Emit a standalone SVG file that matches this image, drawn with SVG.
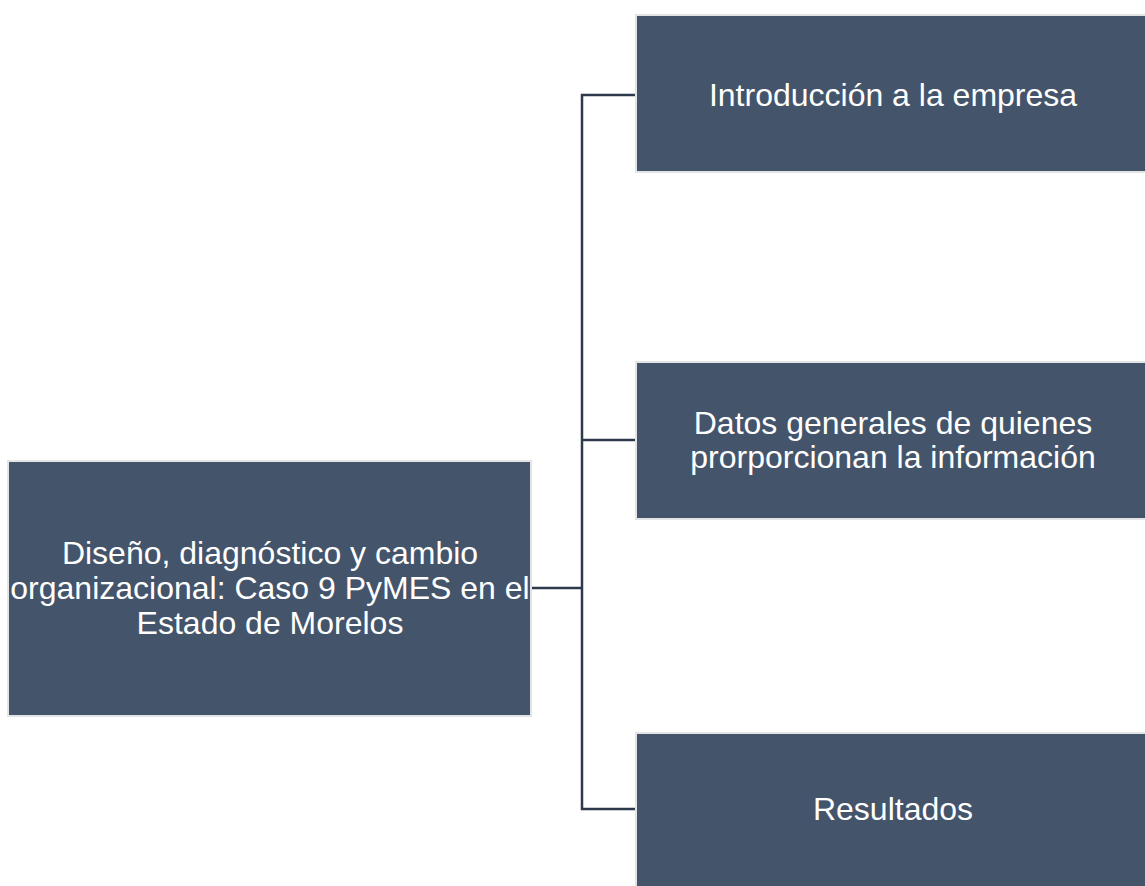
<svg xmlns="http://www.w3.org/2000/svg" width="1145" height="886" viewBox="0 0 1145 886">
<style>
.box{fill:#44546A;stroke:#E2E4E6;stroke-width:2}
.lbl{font-family:'Liberation Sans',Arial,Helvetica,sans-serif;font-size:32px;fill:#FFFFFF;text-anchor:middle}
.con{fill:none;stroke:#2E3A4C;stroke-width:2.5}
</style>
<rect width="1145" height="886" fill="#FFFFFF"/>
<g id="connectors">
<path class="con" d="M531 588 H582"/>
<path class="con" d="M636 95 H582 V809 H636"/>
<path class="con" d="M582 440 H636"/>
</g>
<g id="root">
<rect class="box" x="8" y="461" width="523" height="255"/>
<text class="lbl" font-family="Liberation Sans, Arial, sans-serif"><tspan x="270" y="564">Diseño, diagnóstico y cambio</tspan><tspan x="270" y="599">organizacional: Caso 9 PyMES en el</tspan><tspan x="270" y="634">Estado de Morelos</tspan></text>
</g>
<g id="n1">
<rect class="box" x="636" y="15" width="520" height="157"/>
<text class="lbl" x="893" y="106">Introducción a la empresa</text>
</g>
<g id="n2">
<rect class="box" x="636" y="362" width="520" height="157"/>
<text class="lbl"><tspan x="893" y="434">Datos generales de quienes</tspan><tspan x="893" y="468">prorporcionan la información</tspan></text>
</g>
<g id="n3">
<rect class="box" x="636" y="733" width="520" height="160"/>
<text class="lbl" x="893" y="820">Resultados</text>
</g>
</svg>
